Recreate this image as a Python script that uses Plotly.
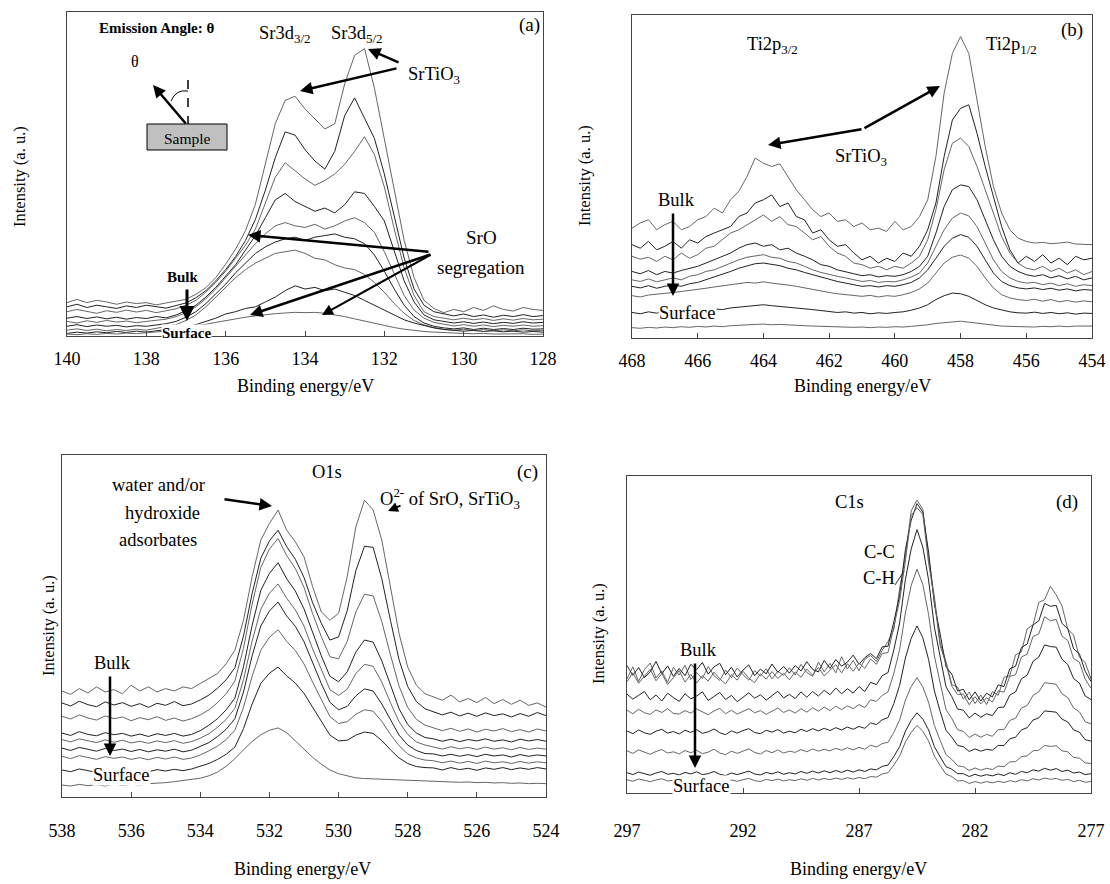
import plotly.graph_objects as go

# ---------------- data (intensity in % of panel height) ----------------
E_A = [140.0, 139.75, 139.5, 139.25, 139.0, 138.75, 138.5, 138.25, 138.0, 137.75, 137.5, 137.25, 137.0,
       136.75, 136.5, 136.25, 136.0, 135.75, 135.5, 135.25, 135.0, 134.75, 134.5, 134.25, 134.0, 133.75,
       133.5, 133.25, 133.0, 132.75, 132.5, 132.25, 132.0, 131.75, 131.5, 131.25, 131.0, 130.75, 130.5,
       130.25, 130.0, 129.75, 129.5, 129.25, 129.0, 128.75, 128.5, 128.25, 128.0]
A1 = [10.3, 11.3, 10.3, 11.0, 10.5, 9.8, 10.5, 10.0, 10.3, 9.6, 10.2, 10.8, 11.3, 12.9, 14.9, 18.0, 22.2, 26.8,
      32.5, 40.7, 53.1, 65.5, 72.7, 74.0, 70.1, 67.0, 63.9, 65.5, 77.8, 86.6, 88.7, 76.5, 61.0, 46.0, 29.5, 18.0,
      11.0, 8.5, 7.2, 8.2, 7.5, 8.8, 7.9, 9.3, 8.2, 7.7, 8.8, 8.2, 7.9]
A2 = [9.0, 9.8, 8.8, 9.5, 9.0, 8.5, 9.3, 8.8, 9.5, 9.0, 8.6, 9.4, 10.2, 11.8, 14.0, 17.0, 20.5, 24.5, 29.5, 36.0,
      45.0, 55.0, 63.0, 62.0, 57.5, 54.0, 51.5, 57.0, 68.0, 73.5, 67.0, 61.0, 50.0, 37.0, 24.0, 14.5, 9.5, 7.5,
      6.8, 6.2, 6.8, 6.0, 6.5, 5.8, 6.4, 6.0, 6.6, 6.0, 6.3]
A3 = [7.5, 8.2, 7.6, 7.0, 7.8, 7.3, 8.0, 7.4, 7.9, 7.2, 7.8, 8.4, 9.5, 11.0, 13.5, 16.5, 20.0, 24.0, 28.0, 33.0,
      41.0, 49.0, 53.5, 51.0, 48.5, 46.5, 48.0, 50.0, 53.0, 57.0, 61.5, 56.0, 46.0, 33.0, 21.0, 12.5, 7.5, 6.0,
      5.5, 5.0, 5.5, 5.0, 5.4, 4.8, 5.3, 4.9, 5.4, 5.0, 5.2]
A4 = [5.5, 6.0, 5.4, 5.9, 5.3, 5.8, 5.2, 5.7, 5.4, 6.0, 5.6, 6.5, 7.8, 9.5, 12.0, 15.0, 18.5, 22.0, 26.5, 31.0,
      36.5, 42.0, 44.0, 41.5, 40.0, 38.5, 39.5, 38.0, 40.5, 44.5, 44.0, 40.0, 35.5, 26.0, 17.0, 10.5, 6.5, 5.0,
      4.5, 4.0, 4.4, 3.9, 4.3, 3.8, 4.2, 3.9, 4.4, 4.0, 4.2]
A5 = [4.5, 4.0, 4.7, 4.2, 4.8, 4.3, 4.6, 4.1, 4.5, 4.9, 5.2, 6.0, 7.2, 9.0, 11.5, 14.5, 18.0, 21.5, 25.0, 28.5,
      31.5, 34.0, 35.0, 34.0, 33.5, 34.5, 33.0, 34.0, 35.5, 36.5, 35.0, 32.0, 26.0, 19.0, 12.5, 8.0, 5.5, 4.2,
      3.6, 3.1, 3.5, 3.0, 3.4, 2.9, 3.3, 3.0, 3.4, 3.0, 3.2]
A6 = [3.0, 3.5, 2.9, 3.4, 3.0, 3.3, 2.8, 3.2, 3.0, 3.4, 3.8, 4.5, 5.8, 7.5, 10.0, 13.0, 16.0, 19.5, 22.5, 25.5,
      27.5, 29.0, 30.0, 30.5, 29.5, 30.5, 31.0, 31.5, 30.5, 30.0, 28.5, 25.0, 20.0, 14.5, 9.5, 6.0, 4.0, 3.0,
      2.5, 2.2, 2.5, 2.0, 2.4, 2.0, 2.3, 2.0, 2.4, 2.1, 2.2]
A7 = [1.8, 2.2, 1.7, 2.1, 1.6, 2.0, 1.7, 2.1, 1.8, 2.3, 2.8, 3.5, 4.8, 6.5, 9.0, 12.0, 15.0, 18.0, 20.5, 22.5,
      24.0, 25.5, 26.0, 26.5, 25.5, 24.0, 23.5, 22.0, 21.0, 20.5, 19.0, 16.5, 13.5, 10.0, 7.0, 4.8, 3.4, 2.6,
      2.1, 1.8, 2.1, 1.7, 2.0, 1.6, 1.9, 1.6, 1.9, 1.6, 1.8]
A8 = [0.8, 1.2, 0.9, 1.3, 1.0, 1.4, 1.1, 1.5, 1.2, 1.6, 1.8, 2.2, 2.8, 3.5, 4.5, 5.5, 6.8, 7.5, 8.5, 9.0, 10.5,
      12.0, 14.0, 15.5, 14.5, 15.0, 14.0, 14.5, 13.5, 12.5, 11.0, 9.5, 8.0, 6.5, 5.0, 4.0, 3.2, 2.5, 2.0, 1.8,
      1.5, 1.7, 1.4, 1.6, 1.3, 1.5, 1.2, 1.4, 1.2]
A9 = [0.6, 0.4, 0.7, 0.5, 0.8, 0.6, 0.9, 0.7, 1.0, 1.2, 1.5, 1.9, 2.4, 3.0, 3.6, 4.2, 4.8, 5.3, 5.8, 6.2, 6.6,
      6.9, 7.1, 7.3, 7.2, 7.3, 7.0, 6.6, 6.0, 5.3, 4.6, 3.9, 3.2, 2.6, 2.1, 1.7, 1.4, 1.2, 1.0, 0.9, 0.8, 0.7,
      0.8, 0.6, 0.7, 0.6, 0.7, 0.5, 0.6]

E_B = [468.0, 467.75, 467.5, 467.25, 467.0, 466.75, 466.5, 466.25, 466.0, 465.75, 465.5, 465.25, 465.0,
       464.75, 464.5, 464.25, 464.0, 463.75, 463.5, 463.25, 463.0, 462.75, 462.5, 462.25, 462.0, 461.75,
       461.5, 461.25, 461.0, 460.75, 460.5, 460.25, 460.0, 459.75, 459.5, 459.25, 459.0, 458.75, 458.5,
       458.25, 458.0, 457.75, 457.5, 457.25, 457.0, 456.75, 456.5, 456.25, 456.0, 455.75, 455.5, 455.25,
       455.0, 454.75, 454.5, 454.25, 454.0]
B1 = [34.0, 35.6, 36.6, 33.5, 35.1, 36.1, 33.5, 34.5, 36.6, 37.6, 40.2, 38.7, 42.8, 45.4, 50.0, 55.7, 54.1, 53.1,
      53.9, 50.0, 45.9, 42.8, 39.7, 37.6, 38.7, 36.1, 36.6, 34.5, 35.6, 33.5, 34.0, 33.0, 36.1, 33.5, 34.5, 37.6,
      42.8, 56.2, 75.8, 88.1, 93.3, 88.1, 73.7, 59.3, 46.9, 38.7, 33.5, 30.9, 29.9, 29.4, 29.6, 29.2, 29.4, 29.7,
      29.1, 28.9, 28.9]
B2 = [28.9, 27.8, 29.9, 27.3, 28.4, 29.9, 27.8, 30.4, 29.4, 31.4, 32.5, 33.5, 34.5, 37.6, 38.7, 41.8, 42.8, 44.3,
      40.7, 41.8, 37.6, 36.6, 32.5, 33.5, 30.4, 28.4, 28.9, 26.3, 24.2, 25.3, 23.2, 24.7, 23.7, 26.3, 25.3, 28.4,
      33.5, 41.8, 56.2, 67.5, 71.1, 72.2, 63.4, 53.1, 43.8, 34.5, 27.3, 23.2, 25.3, 23.7, 25.8, 23.2, 24.7, 22.7,
      25.3, 24.2, 24.7]
B3 = [25.3, 24.4, 25.0, 23.7, 25.3, 24.2, 26.3, 24.7, 25.8, 27.8, 28.4, 30.4, 32.5, 33.5, 35.1, 36.6, 38.1, 36.1,
      37.6, 35.1, 34.5, 32.5, 30.4, 31.4, 28.4, 26.3, 25.3, 23.2, 22.7, 21.6, 22.2, 21.1, 22.2, 21.6, 23.2, 25.3,
      30.4, 39.7, 52.1, 60.3, 61.9, 59.3, 53.1, 45.9, 38.7, 31.4, 26.3, 23.2, 21.6, 21.1, 22.2, 20.6, 21.6, 20.1,
      21.1, 19.6, 20.6]
B4 = [20.6, 19.9, 20.9, 19.6, 20.6, 20.1, 20.9, 21.6, 22.2, 23.2, 24.2, 25.3, 26.3, 27.8, 28.9, 29.4, 28.4, 28.9,
      27.3, 27.8, 26.3, 25.3, 24.2, 22.7, 22.2, 21.1, 20.6, 19.9, 19.3, 19.6, 18.9, 19.3, 19.1, 19.6, 20.6, 22.2,
      25.3, 32.5, 40.7, 45.9, 47.4, 46.9, 42.8, 36.6, 30.4, 25.3, 22.2, 20.6, 19.6, 19.1, 19.6, 18.6, 19.3, 18.3,
      19.1, 18.0, 18.6]
B5 = [18.0, 17.5, 18.3, 17.4, 18.0, 18.6, 18.0, 19.1, 19.6, 20.6, 21.1, 22.2, 23.2, 24.2, 25.0, 25.5, 25.8, 25.0,
      24.7, 23.7, 23.2, 22.2, 21.1, 20.3, 19.6, 19.1, 18.6, 18.0, 17.5, 17.8, 17.2, 17.5, 17.4, 18.0, 18.9, 20.1,
      23.2, 28.4, 33.5, 37.1, 38.7, 37.8, 34.5, 29.4, 24.2, 20.6, 18.6, 17.5, 17.0, 17.2, 16.5, 17.0, 16.2, 16.8,
      16.0, 16.5, 16.2]
B6 = [16.0, 15.5, 16.2, 15.4, 16.0, 16.4, 16.0, 16.8, 17.2, 18.0, 18.9, 19.6, 20.6, 21.6, 22.4, 23.0, 23.2, 22.7,
      22.4, 21.6, 21.1, 20.3, 19.6, 18.9, 18.0, 17.5, 17.0, 16.5, 16.0, 16.2, 15.8, 16.2, 16.0, 16.5, 17.2, 18.6,
      21.1, 24.7, 28.4, 30.9, 32.0, 31.2, 28.4, 24.2, 20.1, 17.5, 16.2, 15.5, 15.2, 15.5, 15.0, 15.4, 14.8, 15.2,
      14.6, 15.0, 14.8]
B7 = [13.1, 12.7, 13.3, 13.5, 13.9, 14.1, 14.4, 14.7, 14.9, 15.4, 15.8, 16.2, 16.5, 16.8, 17.2, 17.0, 17.4, 17.0,
      16.8, 16.4, 16.0, 15.5, 14.9, 14.4, 14.1, 13.7, 13.4, 13.1, 12.9, 13.2, 12.7, 13.1, 12.9, 13.4, 14.1, 15.2,
      17.0, 20.1, 23.2, 25.0, 25.7, 24.7, 22.2, 18.6, 15.5, 13.4, 12.4, 11.9, 11.6, 12.0, 11.4, 11.9, 11.2, 11.6,
      11.1, 11.5, 11.2]
B8 = [7.9, 7.5, 8.1, 7.7, 8.2, 7.9, 8.5, 8.1, 8.8, 8.5, 9.0, 8.8, 9.3, 9.6, 9.8, 10.0, 10.3, 10.0, 9.8, 9.6, 9.3,
      9.0, 8.8, 8.5, 8.2, 7.9, 8.1, 7.7, 7.9, 7.5, 7.8, 7.6, 7.9, 8.1, 8.6, 9.3, 10.3, 11.9, 13.1, 13.9, 13.7,
      12.9, 11.6, 10.3, 9.3, 8.6, 8.1, 7.8, 7.7, 8.0, 7.6, 7.9, 7.5, 7.8, 7.4, 7.7, 7.6]
B9 = [3.2, 3.0, 3.3, 3.1, 3.4, 3.2, 3.5, 3.3, 3.6, 3.4, 3.7, 3.5, 3.8, 4.0, 4.1, 4.2, 4.3, 4.1, 4.2, 4.0, 3.9,
      3.8, 3.7, 3.6, 3.5, 3.4, 3.5, 3.3, 3.4, 3.2, 3.4, 3.3, 3.5, 3.4, 3.6, 3.8, 4.1, 4.5, 4.8, 5.1, 5.2, 4.9,
      4.6, 4.2, 3.9, 3.7, 3.6, 3.5, 3.6, 3.4, 3.6, 3.5, 3.7, 3.5, 3.7, 3.6, 3.7]

E_C = [538.0, 537.75, 537.5, 537.25, 537.0, 536.75, 536.5, 536.25, 536.0, 535.75, 535.5, 535.25, 535.0,
       534.75, 534.5, 534.25, 534.0, 533.75, 533.5, 533.25, 533.0, 532.75, 532.5, 532.25, 532.0, 531.75,
       531.5, 531.25, 531.0, 530.75, 530.5, 530.25, 530.0, 529.75, 529.5, 529.25, 529.0, 528.75, 528.5,
       528.25, 528.0, 527.75, 527.5, 527.25, 527.0, 526.75, 526.5, 526.25, 526.0, 525.75, 525.5, 525.25,
       525.0, 524.75, 524.5, 524.25, 524.0]
C1 = [31.0, 30.0, 31.7, 30.4, 32.2, 30.7, 31.4, 30.2, 32.7, 31.0, 32.2, 30.7, 31.7, 31.0, 32.2, 31.7, 33.2, 34.6,
      36.1, 39.0, 42.9, 51.7, 64.4, 75.1, 80.0, 83.9, 78.0, 74.6, 70.2, 61.5, 54.1, 51.7, 53.7, 64.4, 79.0, 86.8,
      83.9, 75.1, 61.5, 47.8, 38.0, 32.7, 30.2, 29.3, 28.3, 29.8, 27.8, 28.8, 27.6, 29.1, 27.3, 28.5, 27.1, 28.3,
      26.8, 27.5, 26.3]
C2 = [27.5, 26.6, 28.0, 27.0, 26.4, 27.8, 26.9, 27.6, 26.5, 27.3, 26.2, 27.4, 26.8, 27.9, 26.7, 27.2, 28.4, 29.8,
      31.8, 34.3, 37.8, 47.1, 59.5, 69.8, 74.9, 78.0, 73.2, 69.5, 64.2, 56.8, 50.8, 45.9, 46.8, 54.5, 66.2, 73.3,
      73.0, 63.8, 51.7, 40.1, 32.3, 27.9, 25.8, 24.9, 24.0, 24.8, 23.7, 24.5, 23.6, 24.6, 23.8, 24.3, 23.4, 24.4,
      23.6, 24.7, 23.8]
C3 = [23.6, 22.8, 24.0, 23.1, 22.5, 23.7, 22.9, 23.4, 22.3, 23.2, 22.6, 23.5, 22.4, 23.1, 22.2, 22.9, 24.0, 25.5,
      27.6, 30.2, 33.9, 43.5, 56.4, 67.1, 72.5, 75.6, 70.6, 66.8, 61.3, 53.6, 46.9, 41.0, 40.4, 45.5, 54.1, 59.3,
      58.8, 51.3, 41.6, 32.4, 26.2, 22.7, 21.0, 20.3, 19.4, 20.1, 19.2, 19.9, 19.0, 19.8, 19.3, 20.0, 19.1, 19.7,
      19.0, 19.9, 19.3]
C4 = [18.7, 18.0, 19.1, 18.3, 17.9, 18.8, 18.2, 18.6, 17.8, 18.4, 17.7, 18.5, 18.0, 18.6, 17.8, 18.3, 19.4, 21.0,
      22.9, 25.5, 28.9, 38.1, 50.2, 60.4, 65.4, 68.5, 63.8, 60.2, 55.0, 47.9, 41.3, 35.3, 33.7, 36.6, 42.4, 45.9,
      45.3, 39.8, 32.5, 25.8, 21.2, 18.7, 17.4, 17.0, 16.3, 16.9, 16.2, 16.8, 16.4, 17.0, 16.3, 16.7, 16.1, 16.9,
      16.4, 16.8, 16.3]
C5 = [16.8, 16.1, 17.0, 16.4, 15.9, 16.7, 16.0, 16.6, 15.8, 16.3, 15.7, 16.4, 15.9, 16.5, 15.7, 16.2, 17.2, 18.5,
      20.4, 22.7, 25.9, 34.3, 45.6, 54.9, 59.6, 62.3, 58.1, 54.7, 50.0, 43.3, 37.2, 31.4, 29.7, 31.5, 36.1, 38.8,
      38.2, 33.6, 27.6, 22.0, 18.3, 16.1, 15.2, 14.6, 14.0, 14.7, 14.1, 14.5, 13.9, 14.6, 14.0, 14.4, 13.8, 14.5,
      13.9, 14.3, 14.0]
C6 = [14.3, 13.6, 14.5, 13.9, 13.4, 14.2, 13.6, 14.0, 13.3, 13.9, 13.2, 13.8, 13.4, 14.0, 13.2, 13.7, 14.7, 15.9,
      17.7, 19.8, 22.9, 30.7, 41.3, 50.0, 54.4, 57.0, 52.9, 49.9, 45.4, 39.2, 33.2, 27.7, 25.5, 26.5, 29.6, 31.6,
      31.0, 27.2, 22.5, 18.1, 15.2, 13.6, 12.7, 12.6, 12.0, 12.5, 11.9, 12.4, 11.8, 12.5, 12.0, 12.3, 11.7, 12.4,
      11.9, 12.3, 12.0]
C7 = [11.9, 11.2, 12.1, 11.5, 11.0, 11.8, 11.3, 11.7, 11.0, 11.5, 10.9, 11.6, 11.1, 11.7, 11.0, 11.4, 12.3, 13.5,
      14.9, 16.8, 19.5, 26.2, 35.3, 42.9, 46.7, 48.9, 45.5, 42.8, 38.9, 33.6, 28.5, 23.5, 21.5, 22.0, 24.2, 25.5,
      25.1, 22.1, 18.3, 15.0, 12.6, 11.4, 10.8, 10.6, 10.0, 10.5, 9.9, 10.4, 9.8, 10.5, 10.0, 10.3, 9.8, 10.4,
      9.9, 10.3, 10.0]
C8 = [7.9, 7.4, 8.2, 7.6, 7.2, 7.9, 7.4, 7.8, 7.3, 7.9, 7.4, 8.0, 7.6, 8.1, 7.7, 8.2, 8.9, 9.8, 11.0, 12.5, 14.6,
      20.0, 27.2, 33.2, 36.2, 38.0, 35.4, 33.3, 30.3, 26.1, 22.0, 18.1, 16.4, 16.6, 18.1, 19.0, 18.6, 16.5, 13.8,
      11.4, 9.8, 8.9, 8.6, 8.5, 7.9, 8.6, 8.0, 8.4, 7.8, 8.5, 8.1, 8.6, 8.0, 8.5, 8.1, 8.6, 8.2]
C9 = [3.5, 3.2, 3.7, 3.3, 3.6, 3.2, 3.8, 3.4, 3.7, 3.5, 3.9, 4.0, 4.2, 4.5, 4.8, 5.1, 5.5, 6.2, 7.3, 9.0, 11.2,
      13.8, 16.2, 18.2, 19.5, 20.2, 18.8, 16.4, 14.0, 11.6, 9.6, 7.9, 6.8, 6.1, 5.6, 5.4, 5.3, 5.1, 5.0, 4.9,
      4.8, 4.7, 4.6, 4.5, 4.4, 4.5, 4.3, 4.4, 4.2, 4.3, 4.1, 4.2, 4.0, 4.1, 3.9, 4.0, 3.9]

E_D = [297.0, 296.75, 296.5, 296.25, 296.0, 295.75, 295.5, 295.25, 295.0, 294.75, 294.5, 294.25, 294.0,
       293.75, 293.5, 293.25, 293.0, 292.75, 292.5, 292.25, 292.0, 291.75, 291.5, 291.25, 291.0, 290.75,
       290.5, 290.25, 290.0, 289.75, 289.5, 289.25, 289.0, 288.75, 288.5, 288.25, 288.0, 287.75, 287.5,
       287.25, 287.0, 286.75, 286.5, 286.25, 286.0, 285.75, 285.5, 285.25, 285.0, 284.75, 284.5, 284.25,
       284.0, 283.75, 283.5, 283.25, 283.0, 282.75, 282.5, 282.25, 282.0, 281.75, 281.5, 281.25, 281.0,
       280.75, 280.5, 280.25, 280.0, 279.75, 279.5, 279.25, 279.0, 278.75, 278.5, 278.25, 278.0, 277.75,
       277.5, 277.25, 277.0]
D1 = [36.0, 39.8, 35.2, 38.9, 41.0, 36.3, 38.5, 34.9, 39.6, 37.2, 40.3, 35.8, 38.0, 36.1, 39.9, 37.0, 35.5, 38.8,
      36.4, 39.4, 37.3, 35.6, 38.6, 36.9, 39.2, 36.0, 38.4, 37.1,
      39.5, 37.2, 40.6, 38.0, 36.8, 41.3, 38.2, 40.9, 37.9, 43.0, 39.1, 41.8, 38.6, 42.2,
      43.4, 41.5, 45.0, 47.8, 51.5, 64.4, 74.6, 89.0, 92.4, 89.5, 74.2, 61.8, 47.3, 41.5, 34.2, 33.4, 29.6,
      31.8, 28.2, 30.9, 27.9, 32.0, 30.8, 36.5, 37.0, 43.6, 44.5, 51.8, 53.0, 60.1, 61.0, 65.2, 62.5, 59.0, 51.7,
      49.8, 42.8, 41.2, 36.0]
D2 = [40.2, 37.1, 39.6, 36.4, 38.2, 41.5, 37.6, 40.1, 36.8, 39.3, 37.0, 40.6, 38.9, 41.2, 37.5, 39.8, 40.9, 37.3,
      39.7, 36.6, 38.8, 40.4, 37.0, 39.1, 37.6, 40.7, 38.1, 39.9,
      37.8, 40.2, 38.5, 41.4, 39.0, 38.2, 41.8, 39.3, 42.1, 40.0, 41.3, 43.5, 40.6, 42.7,
      44.0, 42.4, 46.1, 46.3, 54.0, 62.2, 76.8, 86.0, 91.3, 88.6, 76.0, 59.5, 50.1, 39.8, 37.5, 32.2, 32.7,
      29.4, 31.9, 29.0, 31.5, 30.3, 34.1, 33.6, 39.2, 40.0, 45.9, 47.0, 53.0, 54.3, 59.8, 58.9, 59.2, 53.5, 51.8,
      45.5, 43.9, 38.4, 35.2]
D3 = [35.1, 37.9, 34.6, 36.8, 39.0, 35.4, 37.7, 34.2, 36.3, 38.6, 35.0, 37.4, 34.7, 37.0, 35.3, 38.1, 36.0, 34.4,
      37.3, 35.6, 38.4, 36.2, 34.8, 37.6, 35.9, 38.3, 36.1, 37.8,
      35.7, 38.2, 36.5, 39.1, 37.2, 39.6, 36.9, 38.7, 40.5, 37.9, 40.8, 38.4, 41.0, 39.3,
      42.3, 40.6, 44.0, 44.3, 52.5, 60.7, 73.2, 87.5, 90.0, 87.9, 72.6, 60.9, 46.4, 40.8, 33.7, 31.1, 31.2,
      27.8, 30.4, 28.1, 30.0, 28.7, 32.3, 31.8, 36.8, 37.3, 42.9, 43.8, 49.4, 50.2, 55.6, 54.3, 54.8, 49.5, 48.1,
      42.4, 41.3, 35.9, 33.0]
D4 = [31.2, 29.6, 30.8, 32.0, 29.4, 30.9, 29.0, 31.5, 30.1, 28.9, 31.3, 29.7, 30.6, 31.9, 29.2, 30.4, 31.7, 29.5,
      30.8, 28.8, 30.2, 31.6, 29.9, 31.0, 29.3, 30.7, 32.1, 30.0,
      31.1, 29.8, 31.9, 30.2, 32.0, 30.6, 32.4, 31.0, 33.1, 31.3, 32.9, 31.5, 33.6, 32.0,
      34.9, 34.2, 37.0, 38.0, 45.1, 53.6, 67.3, 77.0, 83.1, 77.6, 67.2, 52.3, 42.4, 33.5, 30.4, 26.5, 26.1,
      23.7, 25.2, 23.9, 25.0, 24.4, 27.0, 27.1, 30.9, 31.9, 36.0, 37.2, 41.5, 42.9, 46.7, 46.2, 46.0, 42.2, 40.5,
      36.1, 34.7, 30.6, 29.5]
D5 = [26.1, 25.0, 26.4, 25.3, 24.8, 26.2, 25.4, 26.6, 25.1, 24.9, 26.0, 25.2, 26.5, 25.5, 24.7, 25.9, 26.7, 25.0,
      26.1, 24.9, 25.8, 26.6, 25.3, 26.0, 24.8, 25.9, 26.8, 25.4,
      26.2, 25.2, 26.6, 25.5, 26.9, 25.8, 27.1, 26.0, 27.4, 26.3, 27.5, 26.6, 27.9, 26.9,
      29.4, 28.9, 30.8, 31.9, 37.7, 45.2, 56.8, 65.5, 70.6, 65.8, 56.3, 43.2, 34.3, 26.3, 23.5, 20.0, 19.4,
      17.5, 18.6, 17.6, 18.5, 17.9, 20.0, 20.0, 22.9, 23.6, 26.8, 27.6, 30.8, 31.9, 34.8, 34.5, 34.3, 31.3, 30.1,
      26.8, 25.6, 22.5, 21.8]
D6 = [19.6, 18.7, 19.9, 19.0, 18.5, 19.5, 20.1, 18.9, 19.4, 18.6, 19.8, 19.1, 20.0, 18.8, 19.3, 20.2, 19.0, 18.4,
      19.6, 18.9, 19.7, 20.3, 19.1, 18.7, 19.8, 19.2, 20.0, 18.9,
      19.5, 19.0, 20.1, 19.4, 20.3, 19.6, 20.4, 19.7, 20.6, 19.9, 20.8, 20.1, 21.0, 20.4,
      22.1, 21.6, 23.1, 23.8, 28.2, 33.9, 42.6, 48.8, 52.7, 49.0, 42.1, 32.2, 25.7, 19.8, 17.6, 15.0, 14.6,
      13.1, 13.9, 13.2, 13.8, 13.5, 15.0, 15.0, 17.1, 17.6, 19.9, 20.6, 23.0, 23.7, 25.9, 25.6, 25.5, 23.3, 22.4,
      19.9, 19.2, 16.8, 16.4]
D7 = [13.3, 12.5, 13.6, 12.8, 12.2, 13.1, 13.7, 12.6, 13.0, 12.3, 13.4, 12.7, 13.5, 12.4, 12.9, 13.8, 12.6, 12.1,
      13.2, 12.5, 13.3, 13.9, 12.8, 12.3, 13.4, 12.7, 13.6, 12.6,
      13.2, 12.8, 13.7, 13.0, 13.9, 13.2, 13.8, 13.3, 14.1, 13.5, 14.3, 13.6, 14.4, 13.8,
      15.1, 14.5, 15.6, 16.0, 19.1, 23.0, 29.3, 33.6, 36.4, 33.5, 28.6, 21.3, 16.6, 12.1, 10.6, 8.6, 8.3,
      7.1, 7.9, 7.2, 7.8, 7.4, 8.5, 8.3, 9.8, 9.9, 11.5, 11.7, 13.3, 13.5, 15.0, 14.7, 14.9, 13.3, 13.0,
      11.2, 11.0, 9.5, 9.3]
D8 = [6.4, 5.8, 6.6, 6.0, 5.6, 6.3, 6.8, 5.9, 6.2, 5.7, 6.5, 6.0, 6.7, 5.8, 6.1, 6.8, 5.9, 5.5, 6.3, 5.8, 6.4,
      6.9, 6.0, 5.7, 6.5, 6.0, 6.7, 5.9,
      6.4, 6.0, 6.8, 6.2, 6.9, 6.3, 7.0, 6.4, 7.1, 6.5, 7.2, 6.6, 7.3, 6.8,
      7.6, 7.3, 8.4, 8.8, 11.5, 14.6, 19.5, 22.9, 25.3, 23.3, 19.9, 14.6, 11.4, 8.3, 7.5, 6.1, 6.1,
      5.2, 5.9, 5.3, 5.8, 5.4, 6.0, 5.5, 6.4, 5.9, 6.8, 6.4, 7.3, 6.9, 7.8, 7.2, 7.7, 6.8, 7.2, 6.3, 6.6, 5.8, 6.1]
D9 = [4.2, 3.7, 4.4, 3.9, 3.6, 4.1, 4.5, 3.8, 4.0, 3.6, 4.3, 3.9, 4.4, 3.7, 4.0, 4.5, 3.8, 3.5, 4.1, 3.7, 4.2,
      4.6, 3.9, 3.6, 4.3, 3.9, 4.4, 3.8,
      4.2, 3.9, 4.5, 4.0, 4.6, 4.1, 4.6, 4.2, 4.7, 4.3, 4.8, 4.4, 4.9, 4.5,
      5.2, 5.0, 6.0, 6.4, 8.8, 11.6, 16.1, 19.1, 21.3, 19.5, 16.4, 11.6, 8.7, 5.9, 5.2, 3.8, 3.9,
      3.0, 3.6, 3.1, 3.6, 3.2, 3.7, 3.3, 3.9, 3.5, 4.2, 3.8, 4.5, 4.1, 4.7, 4.3, 4.6, 4.0, 4.3, 3.6, 4.0, 3.4, 3.6]

TICKS_A = [140, 138, 136, 134, 132, 130, 128]
TICKS_B = [468, 466, 464, 462, 460, 458, 456, 454]
TICKS_C = [538, 536, 534, 532, 530, 528, 526, 524]
TICKS_D = [297, 292, 287, 282, 277]

# ---------------- figure ----------------
W, H = 1110, 884
FONT = "Liberation Serif"
LINE_COLORS = ["#666666", "#222222"]
SZ = 18.5      # main annotation size
SZ_SMALL = 15  # bold small labels in panel (a)
SZ_TICK = 18


def px(x):
    return x / W


def py(y):
    return 1 - y / H


panels = [
    dict(E=E_A, curves=[A1, A2, A3, A4, A5, A6, A7, A8, A9], rng=[140, 128], ticks=TICKS_A,
         box=(67, 543, 12, 336), standoff=6),
    dict(E=E_B, curves=[B1, B2, B3, B4, B5, B6, B7, B8, B9], rng=[468, 454], ticks=TICKS_B,
         box=(632, 1092, 15, 338), standoff=6),
    dict(E=E_C, curves=[C1, C2, C3, C4, C5, C6, C7, C8, C9], rng=[538, 524], ticks=TICKS_C,
         box=(62, 546, 455, 797), standoff=17),
    dict(E=E_D, curves=[D1, D2, D3, D4, D5, D6, D7, D8, D9], rng=[297, 277], ticks=TICKS_D,
         box=(627, 1091, 476, 793), standoff=21),
]

fig = go.Figure()
layout = dict(width=W, height=H, margin=dict(l=0, r=0, t=0, b=0), autosize=False,
              paper_bgcolor="white", plot_bgcolor="white", showlegend=False,
              font=dict(family=FONT, size=16, color="black"))

for i, p in enumerate(panels, start=1):
    sx = "" if i == 1 else str(i)
    x0, x1, y0, y1 = p["box"]
    for j, c in enumerate(p["curves"]):
        fig.add_trace(go.Scatter(x=p["E"], y=c, mode="lines", xaxis="x" + sx, yaxis="y" + sx,
                                 line=dict(color=LINE_COLORS[j % 2], width=1), hoverinfo="skip"))
    layout["xaxis" + sx] = dict(domain=[px(x0), px(x1)], anchor="y" + sx, range=p["rng"],
                                tickmode="array", tickvals=p["ticks"], ticktext=[str(t) for t in p["ticks"]],
                                ticks="inside", ticklen=5, tickcolor="#444", tickwidth=1,
                                showline=True, mirror=True, linecolor="#444", linewidth=1,
                                showgrid=False, zeroline=False, automargin=False,
                                ticklabelstandoff=p["standoff"],
                                tickfont=dict(family=FONT, size=SZ_TICK, color="black"))
    layout["yaxis" + sx] = dict(domain=[py(y1), py(y0)], anchor="x" + sx, range=[0, 100],
                                showticklabels=False, ticks="", showline=True, mirror=True,
                                linecolor="#444", linewidth=1, showgrid=False, zeroline=False,
                                automargin=False)

ann = []


def text(x, y, s, size=SZ, anchor="center", bg=None, angle=0):
    d = dict(x=px(x), y=py(y), xref="paper", yref="paper", text=s, showarrow=False,
             xanchor=anchor, yanchor="middle", textangle=angle,
             font=dict(family=FONT, size=size, color="black"))
    if bg:
        d["bgcolor"] = bg
        d["borderpad"] = 0
    ann.append(d)


def arrow(hx, hy, tx, ty, w=2.5, size=1.0):
    ann.append(dict(x=px(hx), y=py(hy), xref="paper", yref="paper", ax=tx - hx, ay=ty - hy,
                    axref="pixel", ayref="pixel", text="", showarrow=True, arrowhead=2,
                    arrowsize=size, arrowwidth=w, arrowcolor="black"))


# axis titles
for (x, y) in [(20, 177), (585, 175), (48, 626), (598, 634)]:
    text(x, y, "Intensity (a. u.)", 16.5, angle=-90)
for (x, y) in [(305, 386), (862, 386), (302, 869), (858, 869)]:
    text(x, y, "Binding energy/eV", 18)

# panel (a)
text(97, 28, "<b>Emission Angle: θ</b>", SZ_SMALL, anchor="left")
text(135, 62, "θ", 16)
text(187, 138, "Sample", 15.5)
text(285, 35, "Sr3d<sub>3/2</sub>", SZ)
text(357, 35, "Sr3d<sub>5/2</sub>", SZ)
text(529, 25, "(a)", 19)
text(434, 75, "SrTiO<sub>3</sub>", SZ)
text(481, 238, "SrO", 19)
text(481, 267, "segregation", 19)
text(183, 277, "<b>Bulk</b>", SZ_SMALL)
text(186, 333, "<b>Surface</b>", SZ_SMALL, bg="white")
arrow(153, 85, 187, 125, 2.5)
arrow(368, 49, 400, 63, 2.5)
arrow(300, 91, 398, 68, 2.5)
arrow(248, 235, 430, 252, 2.5)
arrow(250, 315, 432, 254, 2.5)
arrow(322, 315, 432, 254, 2.2)
arrow(187, 321, 187, 288, 3)

# panel (b)
text(772, 45, "Ti2p<sub>3/2</sub>", SZ)
text(1011, 45, "Ti2p<sub>1/2</sub>", SZ)
text(1072, 30, "(b)", 19)
text(861, 157, "SrTiO<sub>3</sub>", SZ)
text(676, 200, "Bulk", SZ)
text(687, 313, "Surface", SZ, bg="white")
arrow(768, 145, 863, 129, 2.5)
arrow(940, 86, 863, 129, 2.5)
arrow(673, 296, 673, 212, 2.5)

# panel (c)
text(327, 472, "O1s", SZ)
text(527, 472, "(c)", 19)
text(158, 485, "water and/or", SZ)
text(162, 513, "hydroxide", SZ)
text(158, 540, "adsorbates", SZ)
text(378, 498, "O<sup>2-</sup> of SrO, SrTiO<sub>3</sub>", SZ, anchor="left")
text(112, 663, "Bulk", SZ)
text(121, 775, "Surface", SZ, bg="white")
arrow(272, 506, 223, 499, 2.5)
arrow(388, 511, 402, 505, 2)
arrow(110, 756, 110, 675, 2.5)

# panel (d)
text(849, 502, "C1s", SZ)
text(1067, 502, "(d)", 19)
text(879, 552, "C-C", SZ)
text(879, 578, "C-H", SZ)
text(698, 650, "Bulk", SZ)
text(701, 786, "Surface", SZ, bg="white")
arrow(695, 768, 695, 662, 2.5)

layout["annotations"] = ann

# inset drawing in panel (a) and the small C-H pointer in panel (d)
layout["shapes"] = [
    dict(type="rect", xref="paper", yref="paper", x0=px(147), x1=px(227), y0=py(150), y1=py(124),
         fillcolor="#c0c0c0", line=dict(color="black", width=1), layer="below"),
    dict(type="line", xref="paper", yref="paper", x0=px(188), x1=px(188), y0=py(80), y1=py(124),
         line=dict(color="black", width=1.5, dash="dash")),
    dict(type="path", xref="paper", yref="paper",
         path=f"M {px(188)},{py(91)} Q {px(176)},{py(89)} {px(171)},{py(101)}",
         line=dict(color="black", width=1)),
    dict(type="line", xref="paper", yref="paper", x0=px(895), x1=px(904), y0=py(585), y1=py(571),
         line=dict(color="#333", width=1)),
]

fig.update_layout(**layout)
fig.write_html("out.html", config={"displayModeBar": False},
               post_script="document.body.style.margin='0px';")
